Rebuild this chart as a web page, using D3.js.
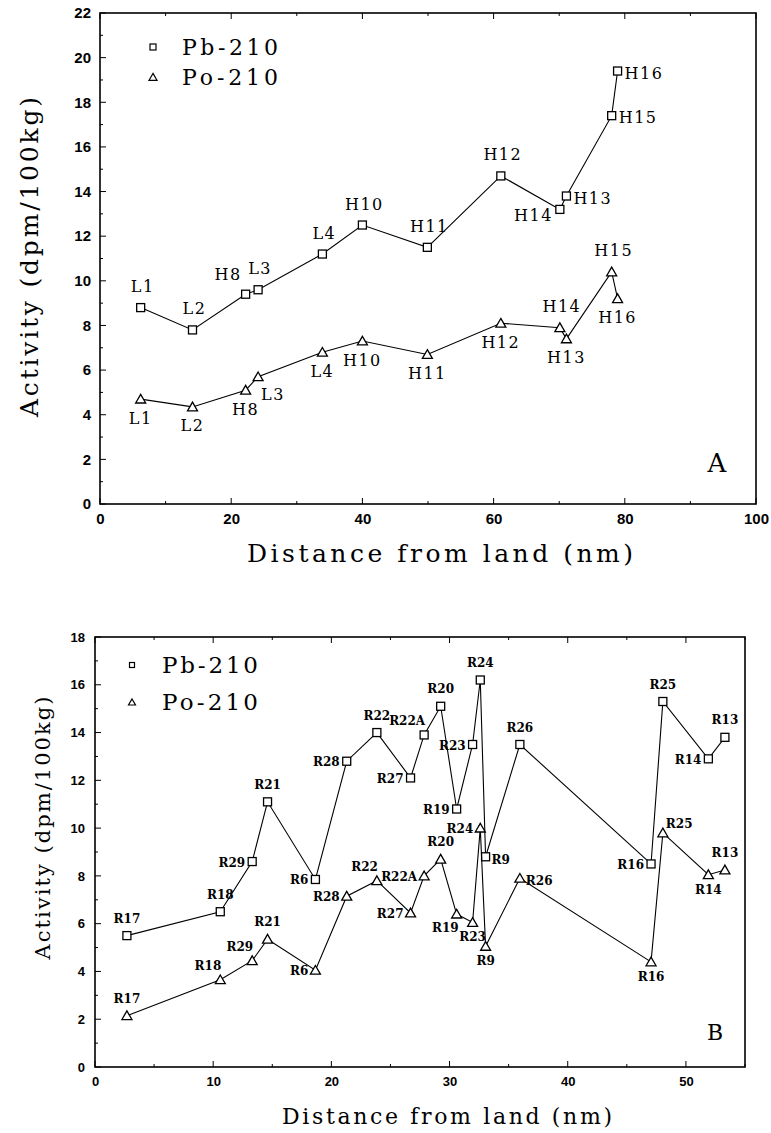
<!DOCTYPE html>
<html>
<head>
<meta charset="utf-8">
<script src="https://cdn.jsdelivr.net/npm/d3@7"></script>
<style>
  body { margin: 0; background: #fff; }
  svg { display: block; }
  .serif { font-family: "DejaVu Serif", serif; }
  .tick text { font-family: "Liberation Sans", Arial, sans-serif; font-weight: bold; }
</style>
</head>
<body>
<svg id="chart" width="771" height="1133"></svg>
<script>
// ---- panel A data ----
var topStations = ['L1','L2','H8','L3','L4','H10','H11','H12','H14','H13','H15','H16'];
var topDist     = [6.2, 14.1, 22.2, 24.1, 33.9, 40.0, 49.9, 61.1, 70.1, 71.1, 78.0, 78.9];
var topPb       = [8.8, 7.8, 9.4, 9.6, 11.2, 12.5, 11.5, 14.7, 13.2, 13.8, 17.4, 19.4];
var topPo       = [4.7, 4.35, 5.1, 5.7, 6.8, 7.3, 6.7, 8.1, 7.9, 7.4, 10.4, 9.2];

// ---- panel B data ----
var botStations = ['R17','R18','R29','R21','R6','R28','R22','R27','R22A','R20','R19','R23','R24','R9','R26','R16','R25','R14','R13'];
var botDist     = [2.7, 10.6, 13.3, 14.6, 18.65, 21.3, 23.85, 26.7, 27.85, 29.25, 30.6, 31.95, 32.6, 33.05, 35.95, 47.05, 48.05, 51.9, 53.3];
var botPb       = [5.5, 6.5, 8.6, 11.1, 7.85, 12.8, 14.0, 12.1, 13.9, 15.1, 10.8, 13.5, 16.2, 8.8, 13.5, 8.5, 15.3, 12.9, 13.8];
var botPo       = [2.15, 3.65, 4.45, 5.35, 4.05, 7.15, 7.8, 6.45, 8.0, 8.7, 6.4, 6.05, 10.0, 5.05, 7.9, 4.4, 9.8, 8.05, 8.25];

var seriesNames = ['Pb-210', 'Po-210'];

// where each station label sits relative to its marker
var topPbPos = ['a','a','al','a','a','a','a','a','lb','r','r','r'];
var topPoPos = ['b','b','b','br','b','b','b','b','a','b','a','b'];
var botPbPos = ['a','a','l','a','l','l','a','l','al','a','l','l','a','r','a','l','a','l','a'];
var botPoPos = ['a','al','al','a','l','l','al','l','l','a','bl','b','l','b','r','b','ar','b','a'];

var svg = d3.select('#chart');

function drawPanel(cfg) {
    var x = d3.scaleLinear().domain(cfg.xDomain).range(cfg.xRange);
    var y = d3.scaleLinear().domain(cfg.yDomain).range(cfg.yRange);
    var g = svg.append('g');
    var x0 = cfg.xRange[0], x1 = cfg.xRange[1], y0 = cfg.yRange[0], y1 = cfg.yRange[1];

    // frame
    g.append('rect')
        .attr('x', x0).attr('y', y1)
        .attr('width', x1 - x0).attr('height', y0 - y1)
        .attr('fill', 'none').attr('stroke', '#000').attr('stroke-width', 1.6);

    // inside ticks, major + minor
    var minorX = d3.range(cfg.xDomain[0], cfg.xDomain[1] + 0.001, cfg.xMinor);
    var minorY = d3.range(cfg.yDomain[0], cfg.yDomain[1] + 0.001, cfg.yMinor);
    var isMajor = function(v, step) { return Math.abs(v / step - Math.round(v / step)) < 1e-6; };
    minorX.forEach(function(v) {
        var len = isMajor(v, cfg.xMajor) ? 6 : 3;
        g.append('line').attr('x1', x(v)).attr('x2', x(v)).attr('y1', y0).attr('y2', y0 - len)
            .attr('stroke', '#000').attr('stroke-width', 1);
        g.append('line').attr('x1', x(v)).attr('x2', x(v)).attr('y1', y1).attr('y2', y1 + len)
            .attr('stroke', '#000').attr('stroke-width', 1);
    });
    minorY.forEach(function(v) {
        var len = isMajor(v, cfg.yMajor) ? 6 : 3;
        g.append('line').attr('x1', x0).attr('x2', x0 + len).attr('y1', y(v)).attr('y2', y(v))
            .attr('stroke', '#000').attr('stroke-width', 1);
    });

    // axis labels via d3 axes, with their own ticks hidden
    var xAxis = d3.axisBottom(x).tickValues(d3.range(cfg.xDomain[0], cfg.xDomain[1] + 0.001, cfg.xMajor))
        .tickSize(0).tickPadding(cfg.tickPad).tickFormat(d3.format('d'));
    var yAxis = d3.axisLeft(y).tickValues(d3.range(cfg.yDomain[0], cfg.yDomain[1] + 0.001, cfg.yMajor))
        .tickSize(0).tickPadding(cfg.tickPad).tickFormat(d3.format('d'));
    var gx = g.append('g').attr('transform', 'translate(0,' + y0 + ')').call(xAxis);
    var gy = g.append('g').attr('transform', 'translate(' + x0 + ',0)').call(yAxis);
    [gx, gy].forEach(function(a) {
        a.select('.domain').remove();
        a.selectAll('text').attr('font-size', cfg.tickFont).attr('fill', '#000');
    });

    // titles
    g.append('text').attr('class', 'serif')
        .attr('x', cfg.xTitle[0]).attr('y', cfg.xTitle[1])
        .attr('text-anchor', 'middle').attr('font-size', cfg.titleFont)
        .attr('textLength', cfg.xTitle[2]).attr('lengthAdjust', 'spacing')
        .text('Distance from land (nm)');
    g.append('text').attr('class', 'serif')
        .attr('transform', 'translate(' + cfg.yTitle[0] + ',' + cfg.yTitle[1] + ') rotate(-90)')
        .attr('text-anchor', 'middle').attr('font-size', cfg.yTitleFont)
        .attr('textLength', cfg.yTitle[2]).attr('lengthAdjust', 'spacing')
        .text('Activity (dpm/100kg)');
    g.append('text').attr('class', 'serif')
        .attr('x', cfg.panelLetter[0]).attr('y', cfg.panelLetter[1])
        .attr('text-anchor', 'middle').attr('font-size', cfg.letterFont)
        .text(cfg.letter);

    // series
    var tri = function(side) { return d3.symbol().type(d3.symbolTriangle).size(side * side * Math.sqrt(3) / 4)(); };
    var series = [
        { vals: cfg.pb, pos: cfg.pbPos, shape: 'square' },
        { vals: cfg.po, pos: cfg.poPos, shape: 'triangle' }
    ];
    var line = d3.line().x(function(d) { return x(d.dist); }).y(function(d) { return y(d.v); });

    series.forEach(function(s) {
        var pts = cfg.stations.map(function(st, i) {
            return { st: st, dist: cfg.dist[i], v: s.vals[i], pos: s.pos[i] };
        });
        g.append('path').datum(pts).attr('d', line)
            .attr('fill', 'none').attr('stroke', '#000').attr('stroke-width', 1.1);

        var m = g.selectAll('.m-' + s.shape).data(pts).enter();
        if (s.shape === 'square') {
            m.append('rect')
                .attr('x', function(d) { return x(d.dist) - cfg.mark / 2; })
                .attr('y', function(d) { return y(d.v) - cfg.mark / 2; })
                .attr('width', cfg.mark).attr('height', cfg.mark)
                .attr('fill', '#fff').attr('stroke', '#000').attr('stroke-width', 1.3);
        } else {
            m.append('path').attr('d', tri(cfg.mark + 2))
                .attr('transform', function(d) { return 'translate(' + x(d.dist) + ',' + (y(d.v) + 1) + ')'; })
                .attr('fill', '#fff').attr('stroke', '#000').attr('stroke-width', 1.3);
        }

        g.selectAll(null).data(pts).enter().append('text')
            .attr('class', cfg.labelClass)
            .attr('font-size', cfg.labelFont)
            .attr('font-weight', cfg.labelWeight)
            .attr('letter-spacing', cfg.labelSpacing)
            .attr('dominant-baseline', 'central')
            .each(function(d) {
                var o = cfg.offsets[d.pos];
                d3.select(this)
                    .attr('x', x(d.dist) + o[0])
                    .attr('y', y(d.v) + o[1])
                    .attr('text-anchor', o[2]);
            })
            .text(function(d) { return d.st; });
    });

    // legend
    var lg = g.append('g');
    lg.append('rect')
        .attr('x', cfg.legend[0] - cfg.legMark / 2).attr('y', cfg.legend[1] - cfg.legMark / 2)
        .attr('width', cfg.legMark).attr('height', cfg.legMark)
        .attr('fill', '#fff').attr('stroke', '#000').attr('stroke-width', 1.2);
    lg.append('path').attr('d', tri(cfg.legMark + 2))
        .attr('transform', 'translate(' + cfg.legend[0] + ',' + (cfg.legend[1] + cfg.legend[3] + 1) + ')')
        .attr('fill', '#fff').attr('stroke', '#000').attr('stroke-width', 1.2);
    seriesNames.forEach(function(n, i) {
        lg.append('text').attr('class', 'serif')
            .attr('x', cfg.legend[2]).attr('y', cfg.legend[1] + i * cfg.legend[3])
            .attr('dominant-baseline', 'central')
            .attr('font-size', cfg.legFont)
            .attr('textLength', cfg.legend[4]).attr('lengthAdjust', 'spacing')
            .text(n);
    });
}

drawPanel({
    xDomain: [0, 100], xRange: [100, 756], xMajor: 20, xMinor: 10,
    yDomain: [0, 22], yRange: [504, 13], yMajor: 2, yMinor: 1,
    tickFont: 15, tickPad: 9,
    xTitle: [440, 562, 386], titleFont: 25,
    yTitle: [38, 257, 320], yTitleFont: 25,
    panelLetter: [717, 472], letter: 'A', letterFont: 26,
    stations: topStations, dist: topDist, pb: topPb, po: topPo,
    pbPos: topPbPos, poPos: topPoPos,
    mark: 8, labelClass: 'serif', labelFont: 16, labelWeight: 'normal', labelSpacing: 1.5,
    offsets: {
        a: [2, -21, 'middle'], b: [0, 19, 'middle'], al: [-4, -20, 'end'],
        l: [-7, 0, 'end'], lb: [-7, 6, 'end'], r: [7, 2, 'start'], br: [3, 18, 'start']
    },
    legend: [153, 47, 182, 30, 96], legMark: 6, legFont: 22
});

drawPanel({
    xDomain: [0, 55], xRange: [95, 745], xMajor: 10, xMinor: 5,
    yDomain: [0, 18], yRange: [1067, 637], yMajor: 2, yMinor: 1,
    tickFont: 13, tickPad: 10,
    xTitle: [447, 1124, 330], titleFont: 22,
    yTitle: [50, 828, 263], yTitleFont: 21,
    panelLetter: [715, 1040], letter: 'B', letterFont: 22,
    stations: botStations, dist: botDist, pb: botPb, po: botPo,
    pbPos: botPbPos, poPos: botPoPos,
    mark: 8, labelClass: 'serif', labelFont: 12, labelWeight: 'bold', labelSpacing: 0,
    offsets: {
        a: [0, -17, 'middle'], b: [0, 15, 'middle'], al: [1, -14, 'end'],
        l: [-7, 1, 'end'], r: [6, 3, 'start'], bl: [2, 14, 'end'], ar: [3, -9, 'start']
    },
    legend: [132, 665, 162, 37, 96], legMark: 5, legFont: 23
});
</script>
</body>
</html>
